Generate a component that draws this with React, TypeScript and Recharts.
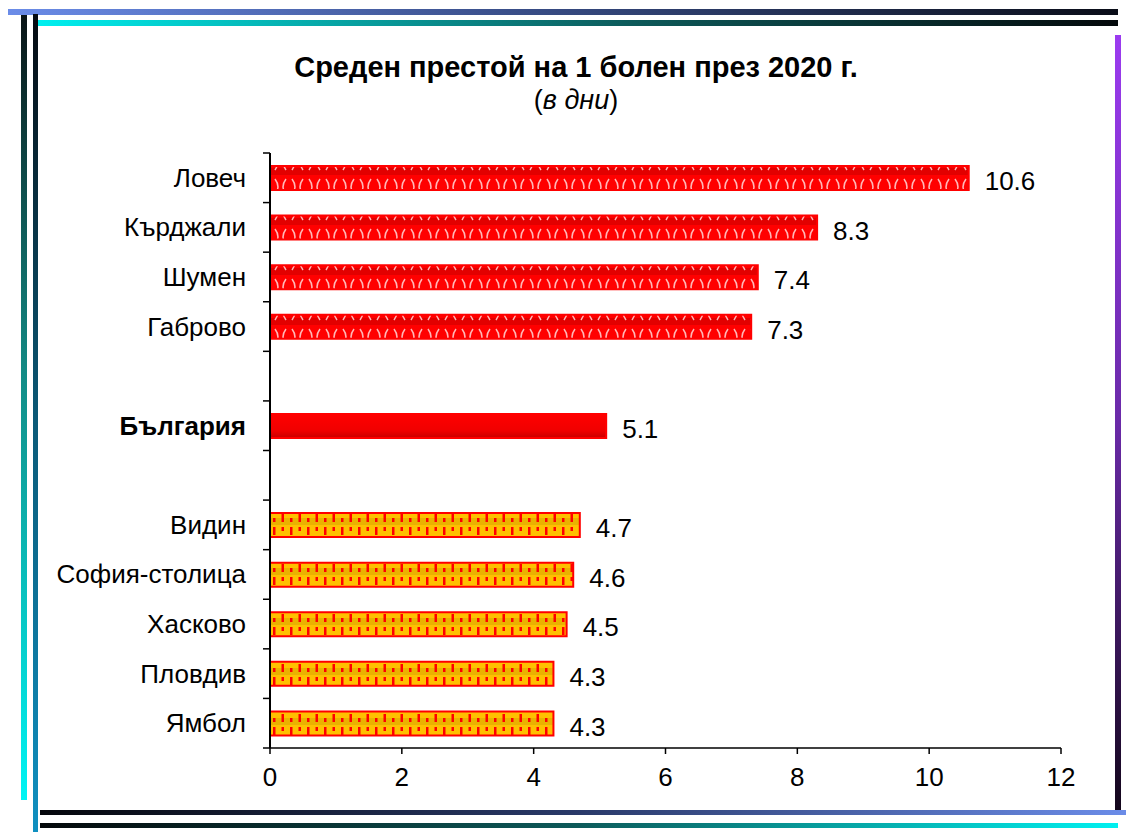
import React from "react";
import { BarChart, Bar, XAxis, YAxis, Cell, LabelList } from "recharts";

const regions = [
  "Ловеч",
  "Кърджали",
  "Шумен",
  "Габрово",
  " ",
  "България",
  "  ",
  "Видин",
  "София-столица",
  "Хасково",
  "Пловдив",
  "Ямбол",
];
const stayDays: (number | null)[] = [10.6, 8.3, 7.4, 7.3, null, 5.1, null, 4.7, 4.6, 4.5, 4.3, 4.3];
// "high" = above national average, "total" = country, "low" = below
const groups = ["high", "high", "high", "high", "gap", "total", "gap", "low", "low", "low", "low", "low"];
const xTicks = [0, 2, 4, 6, 8, 10, 12];

const data = regions.map((name, i) => ({ name, value: stayDays[i], group: groups[i] }));

const FONT = '"Liberation Sans", Arial, sans-serif';
const FS = 26;

const fillFor = (g: string) =>
  g === "high" ? "url(#patHigh)" : g === "total" ? "url(#gradTotal)" : "url(#patLow)";

function CategoryTick({ x, y, payload, index }: any) {
  const half = payload?.offset || 24.8;
  const axisX = x + 24;
  const bold = payload.value === "България";
  return (
    <g>
      <line x1={axisX - 7} x2={axisX} y1={y + half} y2={y + half} stroke="#000" strokeWidth={1.5} />
      {index === 0 && (
        <line x1={axisX - 7} x2={axisX} y1={y - half} y2={y - half} stroke="#000" strokeWidth={1.5} />
      )}
      <text
        x={x}
        y={y}
        dy={9}
        textAnchor="end"
        fontFamily={FONT}
        fontSize={FS}
        fontWeight={bold ? 700 : 400}
        fill="#000"
      >
        {payload.value.trim()}
      </text>
    </g>
  );
}

function Borders() {
  const bar = (style: React.CSSProperties) => (
    <div style={{ position: "absolute", ...style }} />
  );
  return (
    <>
      {bar({ left: 8, top: 9, width: 1110, height: 6, background: "linear-gradient(90deg,#6b8ce8,#3a4f8a 45%,#0a0d18)" })}
      {bar({ left: 36, top: 20, width: 1082, height: 6, background: "linear-gradient(90deg,#00f0f0,#0d5a5a 55%,#04090b)" })}
      {bar({ left: 21, top: 15, width: 6, height: 785, background: "linear-gradient(180deg,#0a1416,#138a84 45%,#00f5f5)" })}
      {bar({ left: 33, top: 14, width: 5, height: 818, background: "linear-gradient(180deg,#050a10,#0b5a78 50%,#1090c0)" })}
      {bar({ left: 1115, top: 35, width: 6, height: 778, background: "linear-gradient(180deg,#9b3bf0,#6a2aa8 50%,#12061a)" })}
      {bar({ left: 40, top: 810, width: 1086, height: 5, background: "linear-gradient(90deg,#05070c,#2a3a6a 50%,#6b8ce8)" })}
      {bar({ left: 40, top: 823, width: 1078, height: 5, background: "linear-gradient(90deg,#04080a,#0d5a5a 50%,#00f0f0)" })}
    </>
  );
}

export default function App() {
  return (
    <div style={{ position: "absolute", left: 0, top: 0, width: 1126, height: 832, background: "#fff", overflow: "hidden" }}>
      <Borders />
      <div
        style={{
          position: "absolute",
          left: 0,
          width: 1152,
          top: 50,
          textAlign: "center",
          fontFamily: FONT,
          fontSize: 29,
          fontWeight: 700,
          lineHeight: "34px",
          color: "#000",
        }}
      >
        Среден престой на 1 болен през 2020 г.
      </div>
      <div
        style={{
          position: "absolute",
          left: 0,
          width: 1152,
          top: 84,
          textAlign: "center",
          fontFamily: FONT,
          fontSize: 27,
          lineHeight: "32px",
          color: "#000",
        }}
      >
        (<i>в дни</i>)
      </div>
      <div style={{ position: "absolute", left: 0, top: 0 }}>
        <BarChart
          width={1126}
          height={832}
          data={data}
          layout="vertical"
          margin={{ top: 153, right: 65, bottom: 44, left: 0 }}
          barCategoryGap={13}
        >
          <defs>
            <pattern id="patHigh" width="17" height="25" patternUnits="userSpaceOnUse">
              <rect width="17" height="25" fill="#ff0000" />
              <rect y="18" width="17" height="7" fill="#e20000" />
              <path
                d="M3 4 Q9 12 3 20 M14 4 Q8 12 14 20"
                stroke="#ffb8b8"
                strokeWidth={1.5}
                fill="none"
              />
            </pattern>
            <pattern id="patLow" width="17" height="25" patternUnits="userSpaceOnUse">
              <rect width="17" height="25" fill="#ffc000" />
              <rect y="18" width="17" height="7" fill="#eab200" />
              <rect x="1" y="2" width="2.5" height="8" fill="#ff0000" />
              <rect x="9.5" y="2" width="2.5" height="4" fill="#ff0000" />
              <rect x="9.5" y="14" width="2.5" height="8" fill="#ff0000" />
              <rect x="1" y="18" width="2.5" height="4" fill="#ff0000" />
            </pattern>
            <linearGradient id="gradTotal" x1="0" y1="0" x2="0" y2="1">
              <stop offset="0%" stopColor="#ff0000" />
              <stop offset="70%" stopColor="#f00000" />
              <stop offset="100%" stopColor="#c80000" />
            </linearGradient>
          </defs>
          <XAxis
            type="number"
            domain={[0, 12]}
            ticks={xTicks}
            height={40}
            axisLine={{ stroke: "#000", strokeWidth: 1.5 }}
            tickLine={{ stroke: "#000", strokeWidth: 1.5 }}
            tickSize={6}
            tickMargin={14}
            tick={{ fill: "#000", fontSize: FS, fontFamily: FONT }}
          />
          <YAxis
            type="category"
            dataKey="name"
            width={270}
            axisLine={{ stroke: "#000", strokeWidth: 2 }}
            tickLine={false}
            tickSize={7}
            tickMargin={17}
            interval={0}
            tick={<CategoryTick />}
          />
          <Bar dataKey="value" barSize={24} stroke="#ff0000" strokeWidth={2} isAnimationActive={false}>
            {data.map((d, i) => (
              <Cell key={i} fill={fillFor(d.group)} />
            ))}
            <LabelList
              dataKey="value"
              position="right"
              offset={16}
              dy={3}
              fill="#000"
              fontSize={FS}
              fontFamily={FONT}
              formatter={(v: any) => (v == null ? "" : Number(v).toFixed(1))}
            />
          </Bar>
        </BarChart>
      </div>
    </div>
  );
}
